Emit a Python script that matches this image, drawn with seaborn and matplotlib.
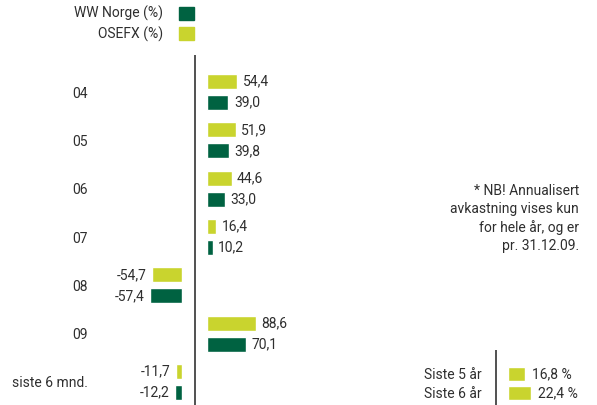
import numpy as np
import pandas as pd
import matplotlib.pyplot as plt
import seaborn as sns
from matplotlib.patches import Patch

# data
periods = ['04', '05', '06', '07', '08', '09', 'siste 6 mnd.']
osefx = [54.4, 51.9, 44.6, 16.4, -54.7, 88.6, -11.7]
ww_norge = [39.0, 39.8, 33.0, 10.2, -57.4, 70.1, -12.2]
series_names = ['OSEFX (%)', 'WW Norge (%)']

summary_labels = ['Siste 5 år', 'Siste 6 år']
summary_values = [16.8, 22.4]

note = '* NB! Annualisert\navkastning vises kun\nfor hele år, og er\npr. 31.12.09.'

LIGHT = '#c9d42e'
DARK = '#006241'
TEXT = '#2e2e2e'
LINE = '#333333'
FS = 10

W, H = 597, 405


def fmt(v, suffix=''):
    return f'{v:.1f}'.replace('.', ',') + suffix


sns.set_style('white')
plt.rcParams['font.family'] = ['Roboto', 'DejaVu Sans']
plt.rcParams['text.color'] = TEXT

fig = plt.figure(figsize=(W / 100, H / 100), dpi=100)


def px_axes(x0, y0, x1, y1):
    # axes placed by pixel box (top-left origin)
    return fig.add_axes([x0 / W, 1 - y1 / H, (x1 - x0) / W, (y1 - y0) / H])


df = pd.DataFrame({
    'period': periods * 2,
    'value': osefx + ww_norge,
    'series': np.repeat(series_names, len(periods)),
})

# main chart
zero_px = 194.5
scale = 0.55  # pixels per percent
ax = px_axes(95, 55, W, H)
ax.set_facecolor('none')
sns.barplot(data=df, x='value', y='period', hue='series', hue_order=series_names,
            palette=[LIGHT, DARK], orient='h', width=0.87, gap=0.29,
            saturation=1, legend=False, ax=ax)
ax.set_xlim(-(zero_px - 95) / scale, (W - zero_px) / scale)
ax.set_ylim(6.476, -0.766)

# bars start a little away from the zero line
gap = 12.5 / scale
for cont in ax.containers:
    labels = [fmt(bar.get_width()) for bar in cont]
    for bar in cont:
        bar.set_x(gap if bar.get_width() >= 0 else -gap)
    ax.bar_label(cont, labels=labels, padding=4, fontsize=FS, color=TEXT)

ax.axvline(0, color=LINE, lw=1.2)
sns.despine(ax=ax, left=True, bottom=True)
ax.set_xticks([])
ax.set_xlabel('')
ax.set_ylabel('')
ax.tick_params(axis='y', length=0, pad=5, labelsize=FS, labelcolor=TEXT)
for t in ax.get_yticklabels():
    t.set_y(t.get_position()[1])
    t.set_verticalalignment('center_baseline')

# legend
handles = [Patch(color=DARK), Patch(color=LIGHT)]
fig.legend(handles, ['WW Norge (%)', 'OSEFX (%)'], loc='upper right',
           bbox_to_anchor=(194 / W, 1 - 6 / H), bbox_transform=fig.transFigure,
           markerfirst=False, frameon=False, borderpad=0, borderaxespad=0,
           handlelength=1.08, handleheight=1.08, handletextpad=1.15,
           labelspacing=0.36, fontsize=FS, labelcolor=TEXT)

# note
fig.text(579 / W, 1 - 218.5 / H, note, ha='right', va='center',
         multialignment='right', linespacing=1.35, fontsize=FS)

# small summary chart
zero2 = 495.7
scale2 = 1.03
ax2 = px_axes(490, 350, W, H)
ax2.set_facecolor('none')
sns.barplot(x=summary_values, y=summary_labels, color=LIGHT, orient='h',
            width=0.737, saturation=1, ax=ax2)
ax2.set_xlim(-(zero2 - 490) / scale2, (W - zero2) / scale2)
ax2.set_ylim(1.632, -1.263)
gap2 = 12 / scale2
for cont in ax2.containers:
    labels = [fmt(bar.get_width(), ' %') for bar in cont]
    for bar in cont:
        bar.set_x(gap2)
    ax2.bar_label(cont, labels=labels, padding=5, fontsize=FS, color=TEXT)
ax2.axvline(0, color=LINE, lw=1.2)
sns.despine(ax=ax2, left=True, bottom=True)
ax2.set_xticks([])
ax2.set_xlabel('')
ax2.set_ylabel('')
ax2.tick_params(axis='y', length=0, pad=6, labelsize=FS, labelcolor=TEXT)

fig.savefig('out.png', dpi=100)
